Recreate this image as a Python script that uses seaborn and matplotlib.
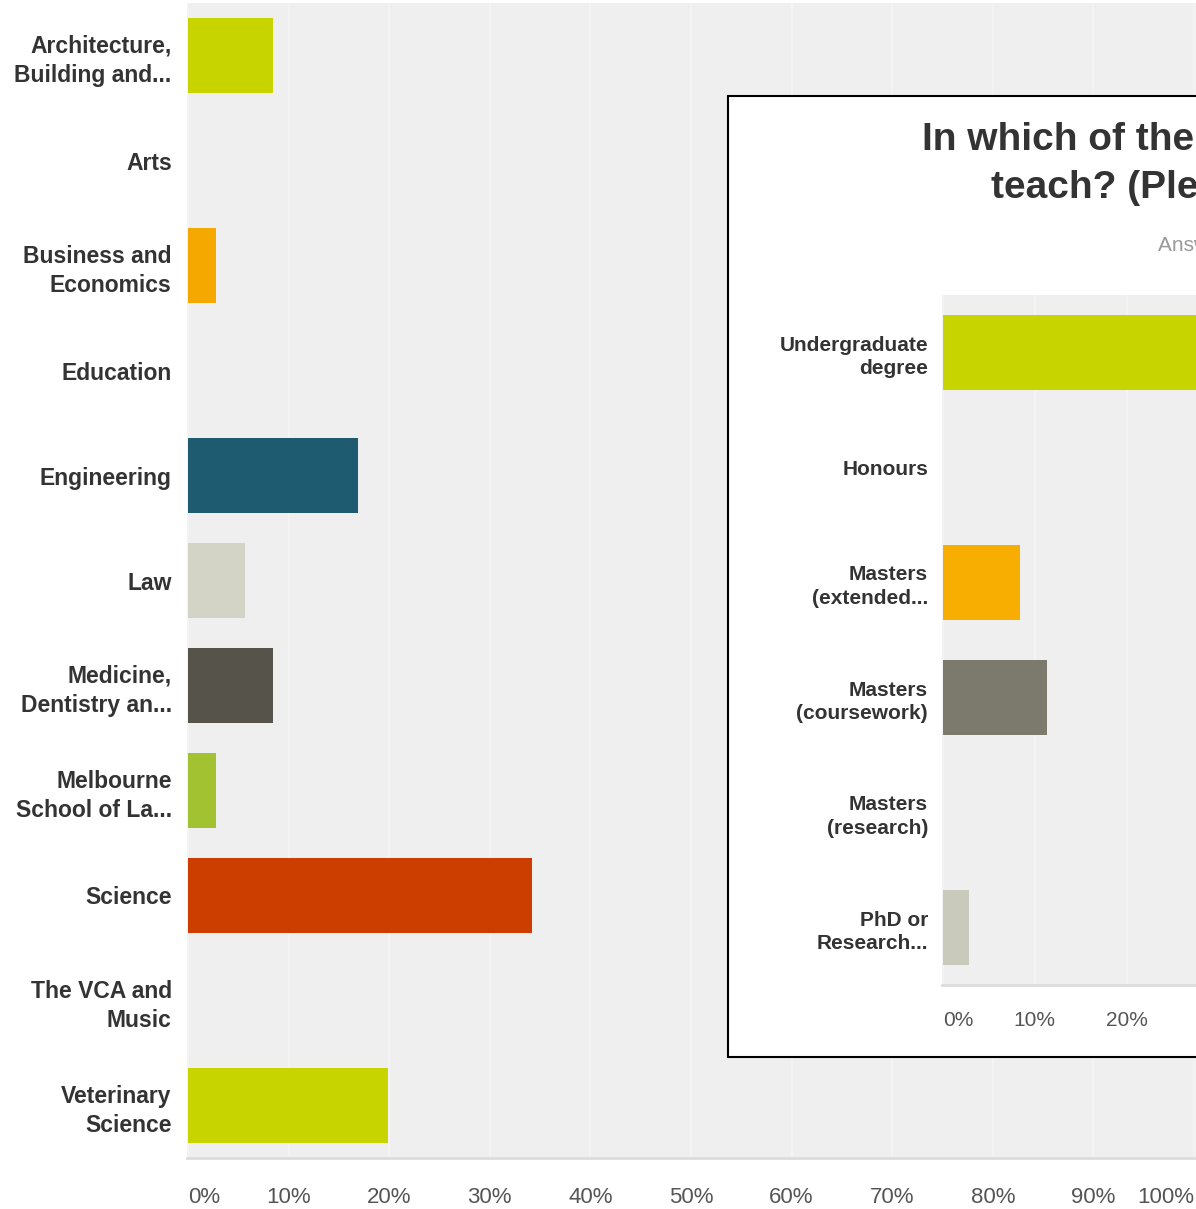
import matplotlib
matplotlib.use("Agg")
import matplotlib.pyplot as plt
import seaborn as sns
import pandas as pd
from matplotlib.patches import Rectangle

sns.set_theme(style="white")
plt.rcParams['font.family'] = ['Liberation Sans', 'DejaVu Sans']

# ---- main chart data ----
faculties = ["Architecture,\nBuilding and...", "Arts", "Business and\nEconomics", "Education",
             "Engineering", "Law", "Medicine,\nDentistry an...", "Melbourne\nSchool of La...",
             "Science", "The VCA and\nMusic", "Veterinary\nScience"]
faculty_pct = [8.45, 0.0, 2.82, 0.0, 16.9, 5.63, 8.45, 2.82, 34.2, 0.0, 19.9]
faculty_colors = ["#c8d400", "#c8d400", "#f5a800", "#1e5a70", "#1e5a70", "#d3d3c6",
                  "#56534a", "#a3c232", "#cc3d00", "#c8d400", "#c8d400"]
main_ticks = [0, 10, 20, 30, 40, 50, 60, 70, 80, 90, 100]
main_tick_labels = ["0%", "10%", "20%", "30%", "40%", "50%", "60%", "70%", "80%", "90%", "100%"]

# ---- inset chart data ----
programs = ["Undergraduate\ndegree", "Honours", "Masters\n(extended...", "Masters\n(coursework)",
            "Masters\n(research)", "PhD or\nResearch..."]
program_pct = [85.0, 0.0, 8.4, 11.3, 0.0, 2.8]
program_colors = ["#c8d400", "#c8d400", "#f7ae00", "#7b7a6c", "#7b7a6c", "#c9cabb"]
inset_ticks = [0, 10, 20, 30, 40, 50, 60, 70, 80, 90, 100]
inset_tick_labels = ["0%", "10%", "20%", "30%", "40%", "50%", "60%", "70%", "80%", "90%", "100%"]
inset_title_1 = "In which of the following programs do you"
inset_title_2 = "teach? (Please select all that apply)"
inset_subtitle = "Answered: 71    Skipped: 0"

W, H = 1196, 1209
fig = plt.figure(figsize=(W / 100, H / 100), dpi=100, facecolor="white")

def fx(px):
    return px / W

def fy(py):
    return 1 - py / H

# ---- main axes ----
ax = fig.add_axes([fx(187), fy(1158), (1196 - 187) / W, (1158 - 3) / H])
ax.set_facecolor("#efefef")
df = pd.DataFrame({"cat": faculties, "pct": faculty_pct})
sns.barplot(data=df, x="pct", y="cat", hue="cat", palette=faculty_colors, legend=False,
            orient="h", width=0.71, ax=ax, saturation=1, linewidth=0, zorder=3)
ax.set_xlim(-0.1, 100.2)
ax.set_ylim(10.5, -0.5)
ax.set_xticks(main_ticks)
ax.set_xticklabels(main_tick_labels, fontsize=16, color="#555555")
ax.tick_params(axis="x", length=0, pad=21)
ax.tick_params(axis="y", length=0, pad=11)
for lab in ax.get_yticklabels():
    lab.set_fontsize(16.5)
    lab.set_fontweight("bold")
    lab.set_color("#333333")
    lab.set_linespacing(1.35)
xl = ax.get_xticklabels()
xl[0].set_ha("left")
xl[-1].set_ha("right")
ax.set_xlabel("")
ax.set_ylabel("")
ax.grid(axis="x", color="#f5f5f5", lw=1.2, zorder=1)
for s in ["top", "right", "left"]:
    ax.spines[s].set_visible(False)
ax.spines["bottom"].set_color("#dcdcdc")
ax.spines["bottom"].set_linewidth(2)

# ---- inset panel ----
box = Rectangle((fx(728), fy(1057)), 0.6, (1057 - 96) / H, transform=fig.transFigure,
                facecolor="white", edgecolor="black", linewidth=1.5, zorder=1)
fig.patches.append(box)

ax2 = fig.add_axes([fx(942), fy(985), 920 / W, (985 - 295) / H], zorder=2)
ax2.set_facecolor("#efefef")
df2 = pd.DataFrame({"cat": programs, "pct": program_pct})
sns.barplot(data=df2, x="pct", y="cat", hue="cat", palette=program_colors, legend=False,
            orient="h", width=0.65, ax=ax2, saturation=1, linewidth=0, zorder=3)
ax2.set_xlim(-0.1, 100)
ax2.set_ylim(5.5, -0.5)
ax2.set_xticks(inset_ticks)
ax2.set_xticklabels(inset_tick_labels, fontsize=15, color="#555555")
ax2.tick_params(axis="x", length=0, pad=19)
ax2.tick_params(axis="y", length=0, pad=10)
for lab in ax2.get_yticklabels():
    lab.set_fontsize(15)
    lab.set_fontweight("bold")
    lab.set_color("#333333")
    lab.set_linespacing(1.3)
ax2.get_xticklabels()[0].set_ha("left")
ax2.set_xlabel("")
ax2.set_ylabel("")
ax2.grid(axis="x", color="#f5f5f5", lw=1.2, zorder=1)
for s in ["top", "right", "left"]:
    ax2.spines[s].set_visible(False)
ax2.spines["bottom"].set_color("#dcdcdc")
ax2.spines["bottom"].set_linewidth(2)

fig.text(fx(922), fy(150), inset_title_1, fontsize=28, fontweight="bold", color="#333333",
         ha="left", va="baseline", zorder=4)
fig.text(fx(991), fy(198), inset_title_2, fontsize=28, fontweight="bold", color="#333333",
         ha="left", va="baseline", zorder=4)
fig.text(fx(1158), fy(251), inset_subtitle, fontsize=15, color="#999999",
         ha="left", va="baseline", zorder=4)

fig.savefig("out.png", dpi=100, facecolor="white")
